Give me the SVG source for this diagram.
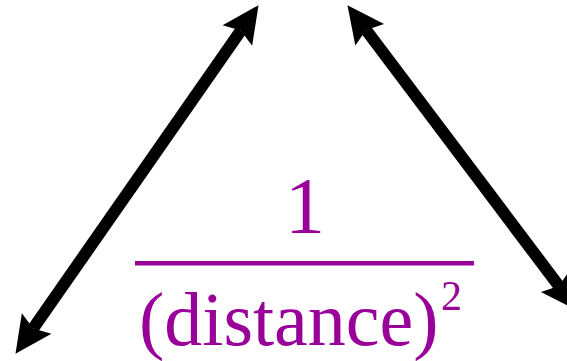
<svg xmlns="http://www.w3.org/2000/svg" width="567" height="361" viewBox="0 0 567 361">
  <rect width="567" height="361" fill="#fff"/>
  <g id="connectors" fill="#000">
    <line x1="33.2" y1="328.4" x2="240.8" y2="30.6" stroke="#000" stroke-width="12"/>
    <polygon points="258.53,5.17 252.14,45.81 240.8,30.6 222.6,25.23"/>
    <polygon points="15.47,353.83 51.4,333.77 33.2,328.4 21.86,313.19"/>
    <line x1="366.1" y1="30" x2="558.9" y2="286" stroke="#000" stroke-width="12"/>
    <polygon points="577.55,310.76 540.91,292.04 558.9,286 569.67,270.38"/>
    <polygon points="347.45,5.24 355.33,45.62 366.1,30 384.09,23.96"/>
  </g>
  <text x="305" y="233" font-size="80" font-family="'Liberation Serif'" fill="#990099" text-anchor="middle">1</text>
  <rect x="135" y="261" width="339" height="4.5" fill="#990099"/>
  <text x="139" y="345" font-size="76" font-family="'Liberation Serif'" fill="#990099">(distance)</text>
  <text x="441" y="310" font-size="42" font-family="'Liberation Serif'" fill="#990099">2</text>
</svg>
